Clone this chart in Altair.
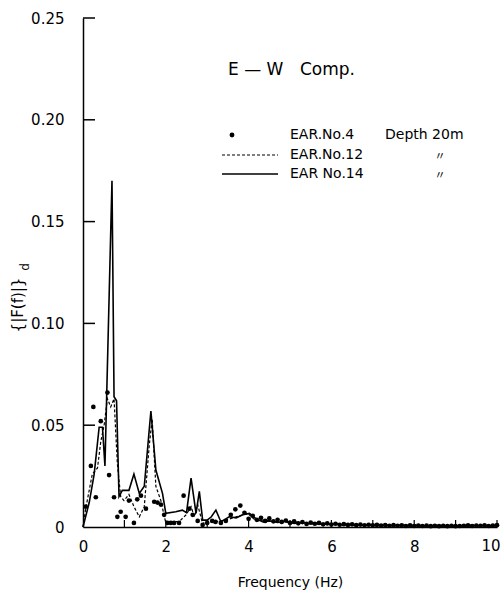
import altair as alt
import pandas as pd

# ---- data ----
f14 = [0.0, 0.15, 0.27, 0.39, 0.47, 0.53, 0.70, 0.75, 0.81, 0.87, 0.95, 1.11, 1.23, 1.36, 1.48,
       1.64, 1.76, 1.92, 2.00, 2.24, 2.40, 2.50, 2.61, 2.73, 2.81, 2.89, 3.00, 3.10, 3.21, 3.33,
       3.45, 3.53, 3.70, 3.86, 4.02, 4.18, 4.35, 4.50, 4.70, 4.90, 5.10, 5.30, 5.50, 5.70, 5.90,
       6.10, 6.30, 6.50, 6.70, 6.90, 7.10, 7.30, 7.50, 7.70, 7.90, 8.10, 8.30, 8.50, 8.70, 8.90,
       9.10, 9.30, 9.50, 9.70, 9.90, 10.0]
v14 = [0.0, 0.012, 0.026, 0.049, 0.049, 0.030, 0.170, 0.064, 0.062, 0.015, 0.018, 0.018, 0.026,
       0.0165, 0.020, 0.057, 0.028, 0.0165, 0.0067, 0.0075, 0.0083, 0.007, 0.024, 0.0067, 0.0175,
       0.0034, 0.0034, 0.005, 0.0083, 0.0026, 0.004, 0.005, 0.0045, 0.006, 0.0067, 0.004, 0.0025,
       0.003, 0.0022, 0.0028, 0.0018, 0.0022, 0.0015, 0.0018, 0.0012, 0.0016, 0.0010, 0.0013,
       0.0009, 0.0011, 0.0008, 0.0010, 0.0007, 0.0009, 0.0006, 0.0008, 0.0005, 0.0007, 0.0004,
       0.0007, 0.0005, 0.0009, 0.0006, 0.0008, 0.0005, 0.0009]

f12 = [0.0, 0.065, 0.225, 0.35, 0.43, 0.51, 0.59, 0.67, 0.75, 0.83, 0.91, 0.99, 1.11, 1.23, 1.36,
       1.48, 1.60, 1.67, 1.76, 1.88, 2.00, 2.16, 2.32, 2.49, 2.61, 2.69, 2.77, 2.89, 3.00, 3.20,
       3.45, 3.70, 3.98, 4.18, 4.40, 4.60, 4.80, 5.00, 5.20, 5.40, 5.60, 5.80, 6.00, 6.20, 6.40,
       6.60, 6.80, 7.00, 7.20, 7.40, 7.60, 7.80, 8.00, 8.20, 8.40, 8.60, 8.80, 9.00, 9.20, 9.40,
       9.60, 9.80, 10.0]
v12 = [0.0, 0.009, 0.026, 0.029, 0.042, 0.050, 0.063, 0.059, 0.063, 0.031, 0.015, 0.013, 0.016,
       0.010, 0.005, 0.010, 0.040, 0.053, 0.020, 0.013, 0.002, 0.0026, 0.0026, 0.006, 0.010, 0.005,
       0.011, 0.0015, 0.0034, 0.0025, 0.0034, 0.005, 0.0067, 0.003, 0.0035, 0.0025, 0.003, 0.002,
       0.0024, 0.0016, 0.002, 0.0013, 0.0017, 0.0011, 0.0014, 0.0009, 0.0012, 0.0008, 0.001,
       0.0007, 0.0009, 0.0006, 0.0008, 0.0005, 0.0007, 0.0005, 0.0006, 0.0004, 0.0007, 0.0005,
       0.0008, 0.0005, 0.0008]

f4 = [0.065, 0.19, 0.25, 0.31, 0.43, 0.59, 0.63, 0.75, 0.83, 0.91, 1.03, 1.11, 1.23, 1.31, 1.40,
      1.52, 1.72, 1.80, 1.88, 1.96, 2.04, 2.12, 2.20, 2.32, 2.43, 2.57, 2.65, 2.77, 2.89, 3.00,
      3.12, 3.20, 3.33, 3.45, 3.57, 3.68, 3.80, 3.90, 4.00, 4.10, 4.20, 4.30, 4.40, 4.50, 4.60,
      4.70, 4.80, 4.90, 5.00, 5.10, 5.20, 5.30, 5.40, 5.50, 5.60, 5.70, 5.80, 5.90, 6.00, 6.10,
      6.20, 6.30, 6.40, 6.50, 6.60, 6.70, 6.80, 6.90, 7.00, 7.10, 7.20, 7.30, 7.40, 7.50, 7.60,
      7.70, 7.80, 7.90, 8.00, 8.10, 8.20, 8.30, 8.40, 8.50, 8.60, 8.70, 8.80, 8.90, 9.00, 9.10,
      9.20, 9.30, 9.40, 9.50, 9.60, 9.70, 9.80, 9.90, 10.0]
v4 = [0.010, 0.030, 0.059, 0.0146, 0.052, 0.066, 0.0255, 0.0146, 0.005, 0.0075, 0.005, 0.013,
      0.002, 0.0136, 0.0154, 0.009, 0.0124, 0.012, 0.011, 0.006, 0.002, 0.002, 0.002, 0.002,
      0.0154, 0.009, 0.006, 0.003, 0.001, 0.002, 0.003, 0.0025, 0.002, 0.003, 0.006, 0.0087,
      0.0105, 0.007, 0.004, 0.0055, 0.0035, 0.0045, 0.003, 0.0042, 0.0028, 0.0035, 0.0025,
      0.0032, 0.002, 0.0028, 0.0018, 0.0024, 0.0015, 0.0022, 0.0016, 0.002, 0.0013, 0.0018,
      0.0012, 0.0016, 0.0011, 0.0014, 0.001, 0.0013, 0.0009, 0.0012, 0.0008, 0.0011, 0.0008,
      0.001, 0.0007, 0.0009, 0.0006, 0.0009, 0.0006, 0.0008, 0.0005, 0.0008, 0.0005, 0.0007,
      0.0005, 0.0007, 0.0004, 0.0006, 0.0004, 0.0006, 0.0004, 0.0006, 0.0004, 0.0005, 0.0006,
      0.0008, 0.0005, 0.0007, 0.0006, 0.0008, 0.0005, 0.0007, 0.0009]

y_ticks = [0.0, 0.05, 0.10, 0.15, 0.20, 0.25]
x_label_ticks = [0, 2, 4, 6, 8]
x_last_label = [10]
x_minor_ticks = [1, 2, 3, 4, 5, 6, 7, 8, 9, 10]
y_inner_ticks = [0.05, 0.10, 0.15, 0.20, 0.25]

W, H = 414, 509
FONT = "DejaVu Sans"

df14 = pd.DataFrame({"f": f14, "v": v14})
df12 = pd.DataFrame({"f": f12, "v": v12})
df4 = pd.DataFrame({"f": f4, "v": v4})

xs = alt.X("f:Q", scale=alt.Scale(domain=[0, 10], nice=False, zero=False),
           axis=alt.Axis(values=x_label_ticks, title="Frequency (Hz)", ticks=False, grid=False,
                         labelPadding=12, titlePadding=21, labelFontSize=15,
                         titleFontSize=14, titleFontWeight="normal", labelFont=FONT,
                         titleFont=FONT, domainColor="black", domainWidth=1.5,
                         labelColor="black", titleColor="black", labelFlush=False))
ys = alt.Y("v:Q", scale=alt.Scale(domain=[0, 0.25], nice=False),
           axis=alt.Axis(values=y_ticks, title=None, ticks=False, grid=False,
                         labelPadding=19, labelFontSize=15, labelFont=FONT,
                         labelExpr="datum.value == 0 ? '0' : format(datum.value, '.2f')",
                         domainColor="black", domainWidth=1.5, labelColor="black",
                         labelFlush=False))

solid = alt.Chart(df14).mark_line(color="black", strokeWidth=1.6).encode(x=xs, y=ys)
dashed = alt.Chart(df12).mark_line(color="black", strokeWidth=1.2, strokeDash=[3, 2]).encode(
    x=alt.X("f:Q"), y=alt.Y("v:Q"))
dots = alt.Chart(df4).mark_circle(color="black", size=22, opacity=1).encode(
    x=alt.X("f:Q"), y=alt.Y("v:Q"))

yt = alt.Chart(pd.DataFrame({"v": y_inner_ticks})).mark_rule(color="black", strokeWidth=1.5).encode(
    y=alt.Y("v:Q"), x=alt.value(0), x2=alt.value(12))
xt = alt.Chart(pd.DataFrame({"f": x_minor_ticks})).mark_rule(color="black", strokeWidth=1.2).encode(
    x=alt.X("f:Q"), y=alt.value(H), y2=alt.value(H - 7))
last_lab = alt.Chart(pd.DataFrame({"f": x_last_label, "t": ["10"]})).mark_text(
    fontSize=15, font=FONT, color="black", dx=-6, baseline="top", align="center").encode(
    x=alt.X("f:Q"), y=alt.value(H + 12), text="t:N")

def txt(s, x, y, size=14, align="left", font=FONT, angle=0):
    kw = dict(align=align, baseline="middle", fontSize=size, font=font, color="black")
    if angle:
        kw["angle"] = angle
    return alt.Chart(pd.DataFrame({"t": [s]})).mark_text(**kw).encode(
        text="t:N", x=alt.value(x), y=alt.value(y))

legend = [
    txt("E — W", 145, 52, 17),
    txt("Comp.", 217, 52, 17),
    txt("EAR.No.4", 207, 117),
    txt("Depth  20m", 302, 117),
    txt("EAR.No.12", 207, 137),
    txt("EAR No.14", 207, 156),
    txt("〃", 357, 139, 11, "center", "Noto Sans CJK JP"),
    txt("〃", 357, 158, 11, "center", "Noto Sans CJK JP"),
    txt("{|F(f)|}", -65, 287, 15, "center", FONT, 270),
    txt("d", -58, 249, 12, "center", FONT, 270),
]
leg_dot = alt.Chart(pd.DataFrame({"a": [1]})).mark_circle(color="black", size=24, opacity=1).encode(
    x=alt.value(149), y=alt.value(117))
leg_dash = alt.Chart(pd.DataFrame({"a": [1]})).mark_rule(color="black", strokeWidth=1.1, strokeDash=[3, 2]).encode(
    x=alt.value(139), x2=alt.value(195), y=alt.value(137))
leg_solid = alt.Chart(pd.DataFrame({"a": [1]})).mark_rule(color="black", strokeWidth=1.5).encode(
    x=alt.value(139), x2=alt.value(195), y=alt.value(156))

chart = alt.layer(solid, dashed, dots, yt, xt, last_lab, leg_dot, leg_dash, leg_solid, *legend).properties(
    width=W, height=H,
    autosize=alt.AutoSizeParams(type="none"),
    padding={"left": 83, "top": 18, "right": 7, "bottom": 72},
    background="white",
).configure_view(stroke=None)

chart.save("out.html", embed_options={"renderer": "svg", "actions": False})
